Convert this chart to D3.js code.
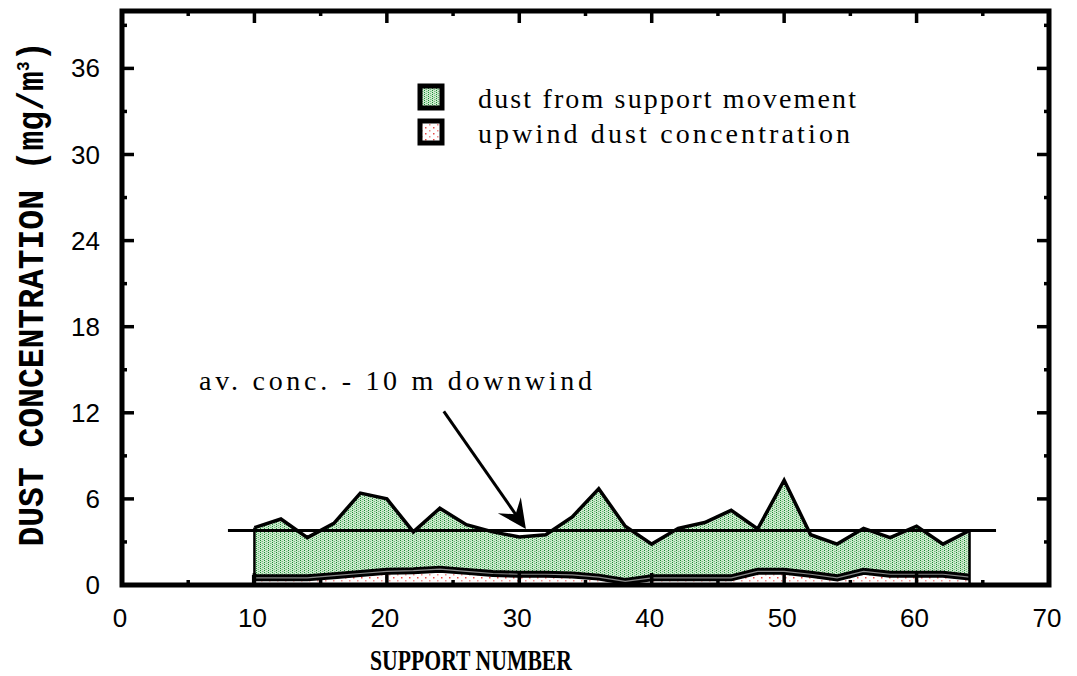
<!DOCTYPE html>
<html>
<head>
<meta charset="utf-8">
<script src="https://cdn.jsdelivr.net/npm/d3@7"></script>
<style>
  html, body { margin: 0; padding: 0; background: #fff; }
  svg { display: block; }
</style>
</head>
<body>
<svg id="chart" width="1077" height="676"></svg>
<script>
// Support positions along the face
const supportNumbers = [10, 12, 14, 16, 18, 20, 22, 24, 26, 28, 30, 32, 34, 36,
                        38, 40, 42, 44, 46, 48, 50, 52, 54, 56, 58, 60, 62, 64];
// Upwind (background) dust concentration, mg/m3
const upwindDust = [0.5, 0.5, 0.5, 0.65, 0.8, 0.95, 1.0, 1.1, 0.95, 0.8, 0.75, 0.75, 0.7, 0.55,
                    0.25, 0.5, 0.5, 0.5, 0.5, 0.95, 0.95, 0.75, 0.5, 0.95, 0.75, 0.75, 0.75, 0.55];
// Additional dust generated by support movement, mg/m3
const movementDust = [3.5, 4.1, 2.8, 3.65, 5.6, 5.05, 2.7, 4.25, 3.25, 2.9, 2.6, 2.75, 4.05, 6.15,
                      3.85, 2.35, 3.45, 3.85, 4.7, 2.95, 6.35, 2.75, 2.35, 3.0, 2.55, 3.35, 2.1, 3.25];
// Average concentration measured 10 m downwind, and the span it is drawn over
const avgDownwind = 3.8;
const avgSpan = [8, 66];
// Annotation arrow (support number, concentration)
const arrowFrom = [24.3, 12.1];
const arrowTo = [30.5, 3.9];

const xTicks = [0, 10, 20, 30, 40, 50, 60, 70];
const xMinorTicks = [5, 15, 25, 35, 45, 55, 65];
const yTicks = [0, 6, 12, 18, 24, 30, 36];
const yMinorTicks = [3, 9, 15, 21, 27, 33, 39];

const seriesKeys = ["upwind", "movement"];
const legendLabels = ["dust from support movement", "upwind dust concentration"];

const svg = d3.select("#chart");
const plotLeft = 122, plotRight = 1049, plotTop = 11, plotBottom = 585;

const x = d3.scaleLinear().domain([0, 70]).range([plotLeft, plotRight]);
const y = d3.scaleLinear().domain([0, 40]).range([plotBottom, plotTop]);

// Fill patterns
const defs = svg.append("defs");
const gp = defs.append("pattern").attr("id", "greenFill")
  .attr("patternUnits", "userSpaceOnUse").attr("width", 4).attr("height", 4);
gp.append("rect").attr("width", 4).attr("height", 4).attr("fill", "#cfe9cf");
gp.append("rect").attr("x", 0).attr("y", 0).attr("width", 1).attr("height", 1).attr("fill", "#1a8a32");
gp.append("rect").attr("x", 0).attr("y", 2).attr("width", 1).attr("height", 1).attr("fill", "#1a8a32");
gp.append("rect").attr("x", 2).attr("y", 1).attr("width", 1).attr("height", 1).attr("fill", "#6fbf7e");
gp.append("rect").attr("x", 2).attr("y", 3).attr("width", 1).attr("height", 1).attr("fill", "#6fbf7e");
gp.append("rect").attr("x", 1).attr("y", 1).attr("width", 1).attr("height", 1).attr("fill", "#a6d8ad");
gp.append("rect").attr("x", 3).attr("y", 3).attr("width", 1).attr("height", 1).attr("fill", "#a6d8ad");

const rp = defs.append("pattern").attr("id", "redFill")
  .attr("patternUnits", "userSpaceOnUse").attr("width", 8).attr("height", 6);
rp.append("rect").attr("width", 8).attr("height", 6).attr("fill", "#fff");
rp.append("rect").attr("x", 1).attr("y", 1).attr("width", 1.5).attr("height", 1.5).attr("fill", "#e84848");
rp.append("rect").attr("x", 5).attr("y", 4).attr("width", 1.5).attr("height", 1.5).attr("fill", "#f08a8a");

// Stacked data
const rows = supportNumbers.map((s, i) => ({ s, upwind: upwindDust[i], movement: movementDust[i] }));
const stacked = d3.stack().keys(seriesKeys)(rows);
const area = d3.area().x(d => x(d.data.s)).y0(d => y(d[0])).y1(d => y(d[1]));
const lineTop = d3.line().x(d => x(d.data.s)).y(d => y(d[1]));

const plot = svg.append("g");
// upwind layer
plot.append("path").datum(stacked[0]).attr("d", area).attr("fill", "url(#redFill)");
// support-movement layer
plot.append("path").datum(stacked[1]).attr("d", area).attr("fill", "url(#greenFill)");

// Outlines: total concentration and upwind boundary
plot.append("path").datum(stacked[1]).attr("d", lineTop)
  .attr("fill", "none").attr("stroke", "#000").attr("stroke-width", 3.5).attr("stroke-linejoin", "miter");
plot.append("path").datum(stacked[0]).attr("d", lineTop)
  .attr("fill", "none").attr("stroke", "#000").attr("stroke-width", 7);
plot.append("path").datum(stacked[0]).attr("d", lineTop)
  .attr("fill", "none").attr("stroke", "#888").attr("stroke-width", 1.2);
// end edges
const firstPt = stacked[1][0], lastPt = stacked[1][stacked[1].length - 1];
[firstPt, lastPt].forEach(d => {
  plot.append("line")
    .attr("x1", x(d.data.s)).attr("x2", x(d.data.s))
    .attr("y1", y(0)).attr("y2", y(d[1]))
    .attr("stroke", "#000").attr("stroke-width", 2.5);
});
const firstU = stacked[0][0];
plot.append("line")
  .attr("x1", x(firstU.data.s) - 0.5).attr("x2", x(firstU.data.s) - 0.5)
  .attr("y1", y(0)).attr("y2", y(firstU[1]) - 3)
  .attr("stroke", "#000").attr("stroke-width", 4);

// Average downwind concentration line
plot.append("line")
  .attr("x1", x(avgSpan[0])).attr("x2", x(avgSpan[1]))
  .attr("y1", y(avgDownwind)).attr("y2", y(avgDownwind))
  .attr("stroke", "#000").attr("stroke-width", 3);

// Frame and inward ticks on all four sides
const axes = svg.append("g");
axes.append("rect").attr("x", plotLeft).attr("y", plotTop)
  .attr("width", plotRight - plotLeft).attr("height", plotBottom - plotTop)
  .attr("fill", "none").attr("stroke", "#000").attr("stroke-width", 5);

const tickG = axes.append("g");
const tickPath = (x1, y1, x2, y2) => tickG.append("path")
  .attr("d", `M${x1},${y1}L${x2},${y2}`)
  .attr("fill", "none").attr("stroke", "#000").attr("stroke-width", 3.5);
const addXTicks = (vals, len) => vals.forEach(v => {
  tickPath(x(v), plotBottom, x(v), plotBottom - len);
  tickPath(x(v), plotTop, x(v), plotTop + len);
});
const addYTicks = (vals, len) => vals.forEach(v => {
  tickPath(plotLeft, y(v), plotLeft + len, y(v));
  tickPath(plotRight, y(v), plotRight - len, y(v));
});
addXTicks(xTicks, 12);
addXTicks(xMinorTicks, 5);
addYTicks(yTicks, 12);
addYTicks(yMinorTicks, 5);

// Tick labels
const labelFont = "'Liberation Sans', Arial, sans-serif";
axes.append("g").selectAll("text").data(xTicks).join("text")
  .attr("x", d => x(d) - 2).attr("y", 627)
  .attr("text-anchor", "middle").attr("font-family", labelFont).attr("font-size", 26)
  .text(d => d);
axes.append("g").selectAll("text").data(yTicks).join("text")
  .attr("x", 100).attr("y", d => y(d) + 9)
  .attr("text-anchor", "end").attr("font-family", labelFont).attr("font-size", 26)
  .text(d => d);

// Axis titles
svg.append("text")
  .attr("x", 471).attr("y", 670).attr("text-anchor", "middle")
  .attr("font-family", "'Liberation Serif', 'Times New Roman', serif")
  .attr("font-weight", "bold").attr("font-size", 29)
  .attr("textLength", 202).attr("lengthAdjust", "spacingAndGlyphs")
  .text("SUPPORT NUMBER");

const yTitle = svg.append("text")
  .attr("transform", "translate(43,294) rotate(-90)")
  .attr("text-anchor", "middle")
  .attr("font-family", "'Liberation Mono', 'Courier New', monospace")
  .attr("font-weight", "bold").attr("font-size", 36)
  .attr("textLength", 505).attr("lengthAdjust", "spacingAndGlyphs");
yTitle.append("tspan").text("DUST  CONCENTRATION (mg/m");
yTitle.append("tspan").attr("font-size", 18).attr("dy", -14).text("3");
yTitle.append("tspan").attr("dy", 14).text(")");

// Legend
const serif = "'Liberation Serif', 'Times New Roman', serif";
const legend = svg.append("g");
const legendFills = ["url(#greenFill)", "url(#redFill)"];
const legendRows = [{ y: 86, base: 108 }, { y: 121, base: 143 }];
legendLabels.forEach((lbl, i) => {
  legend.append("rect")
    .attr("x", 420).attr("y", legendRows[i].y).attr("width", 22).attr("height", 22)
    .attr("fill", legendFills[i]).attr("stroke", "#000").attr("stroke-width", 5);
  legend.append("text")
    .attr("x", 478).attr("y", legendRows[i].base)
    .attr("font-family", serif).attr("font-size", 28)
    .attr("textLength", i === 0 ? 378 : 372).attr("lengthAdjust", "spacing")
    .text(lbl);
});

// Annotation
svg.append("text")
  .attr("x", 199).attr("y", 390)
  .attr("font-family", serif).attr("font-size", 28)
  .attr("textLength", 393).attr("lengthAdjust", "spacing")
  .text("av. conc. - 10 m downwind");

const ax0 = x(arrowFrom[0]), ay0 = y(arrowFrom[1]);
const ax1 = x(arrowTo[0]), ay1 = y(arrowTo[1]);
const ang = Math.atan2(ay1 - ay0, ax1 - ax0) * 180 / Math.PI;
const len = Math.hypot(ax1 - ax0, ay1 - ay0);
const arrow = svg.append("g").attr("transform", `translate(${ax0},${ay0}) rotate(${ang})`);
arrow.append("line").attr("x1", 0).attr("y1", 0).attr("x2", len - 14).attr("y2", 0)
  .attr("stroke", "#000").attr("stroke-width", 3);
const head = d3.path();
head.moveTo(len, 0);
head.lineTo(len - 29, -14);
head.lineTo(len - 18, 0);
head.lineTo(len - 29, 14);
head.closePath();
arrow.append("path").attr("d", head.toString()).attr("fill", "#000");
</script>
</body>
</html>
